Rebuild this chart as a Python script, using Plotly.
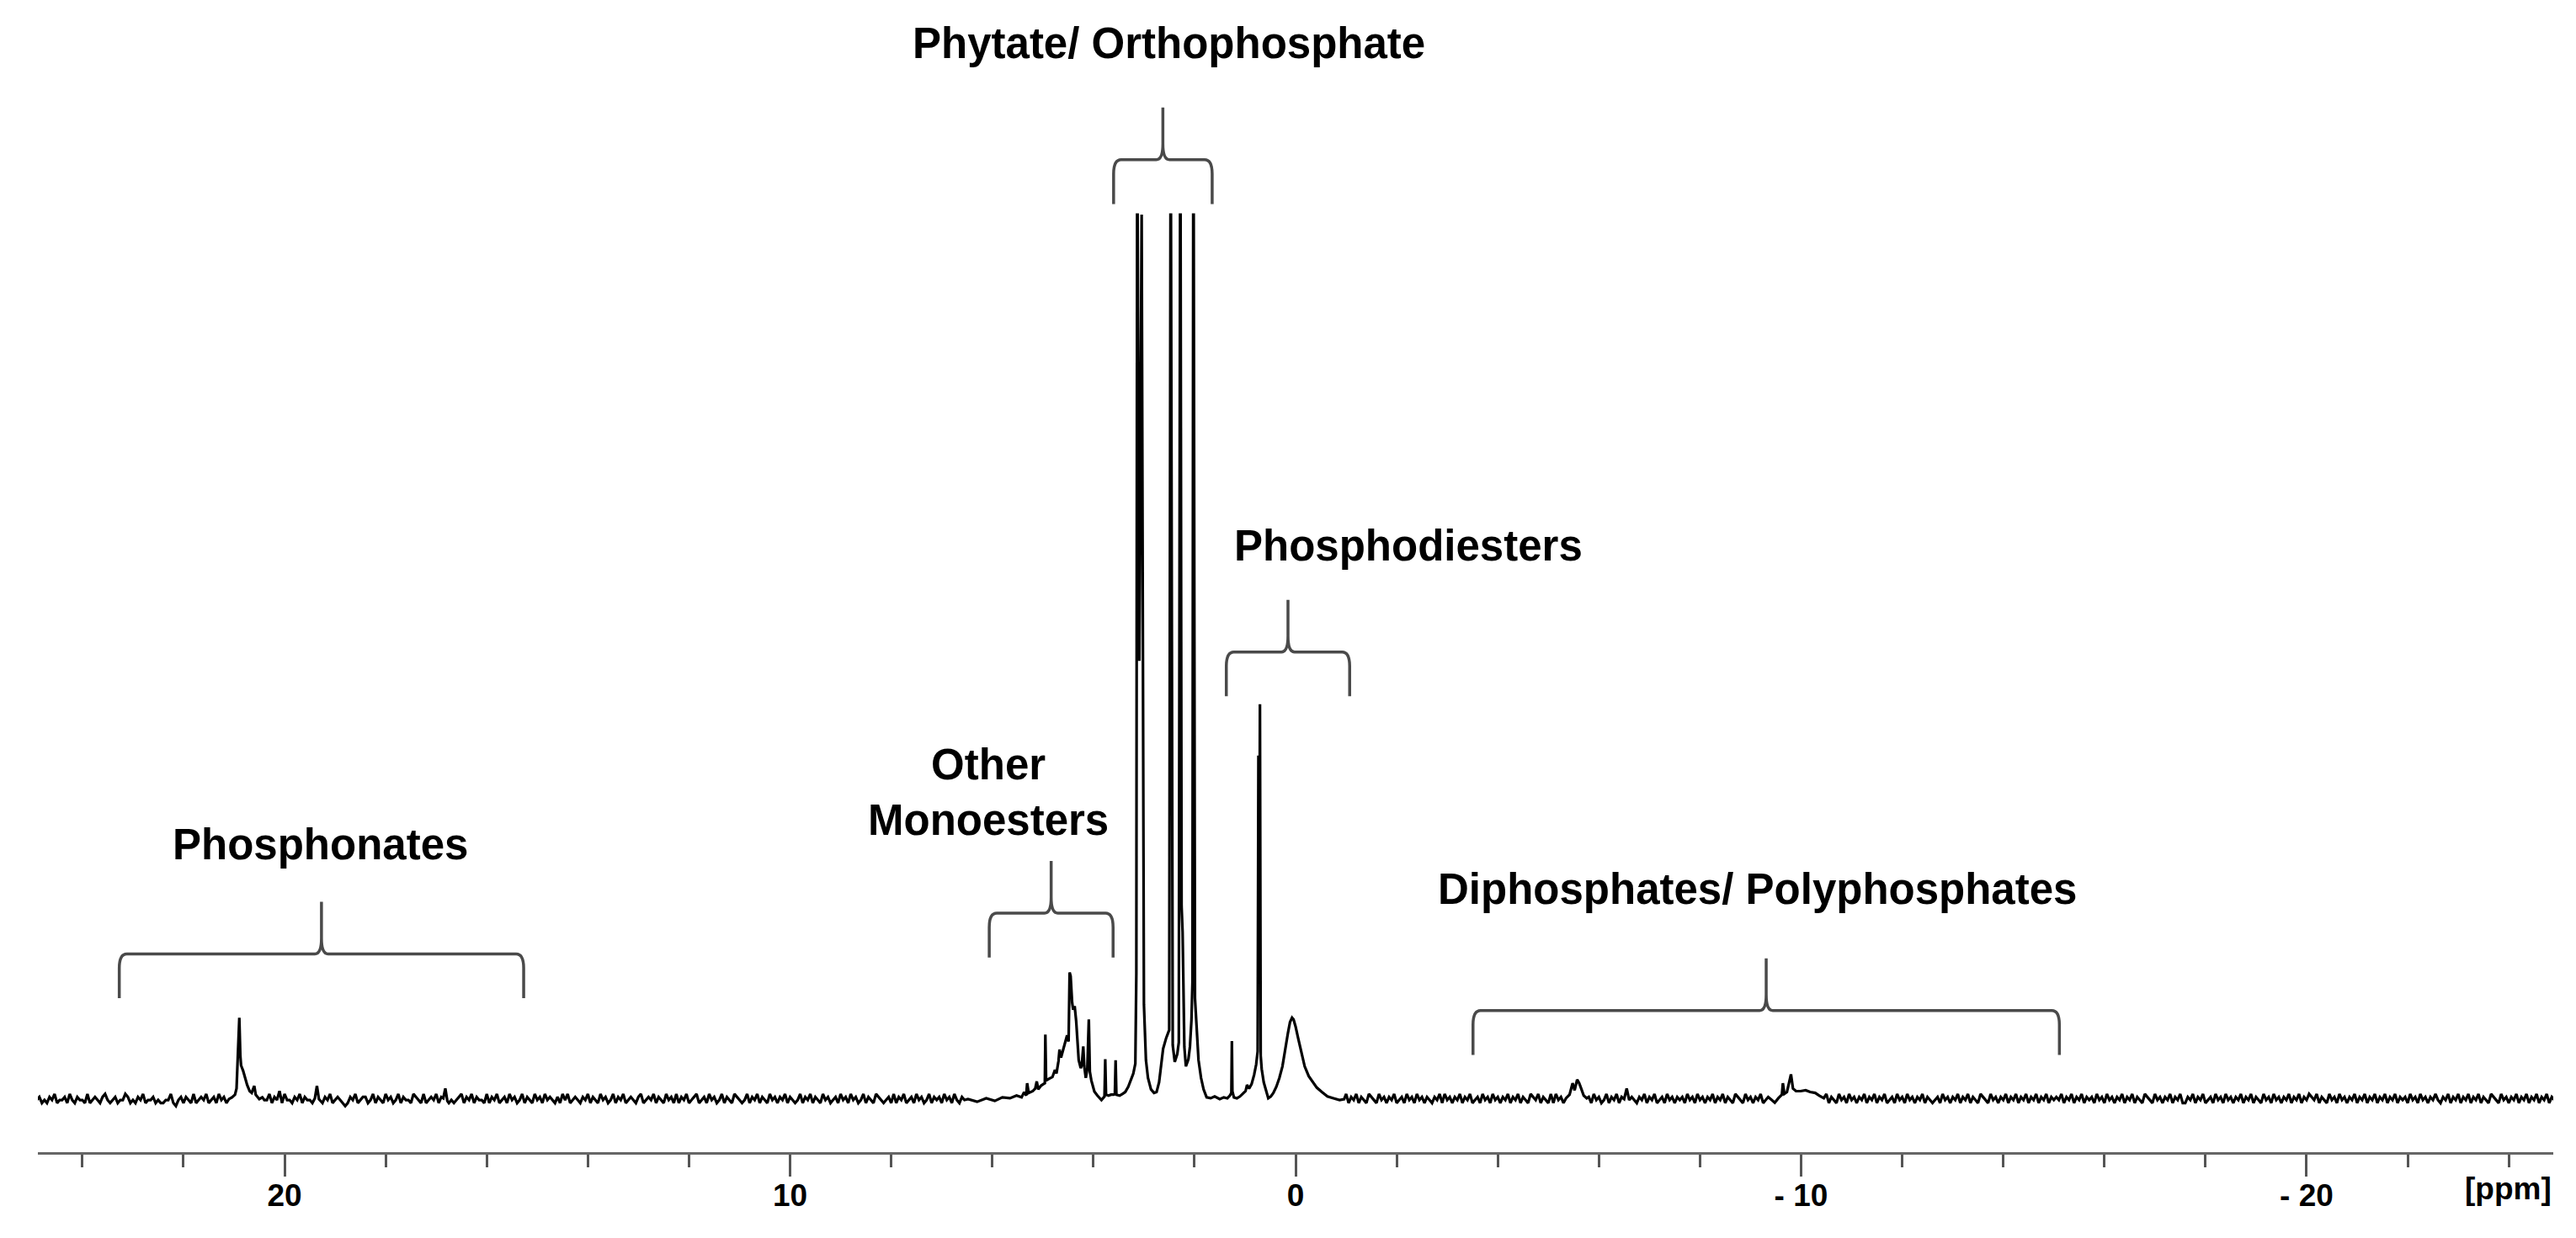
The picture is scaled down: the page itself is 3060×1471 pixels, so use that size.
import plotly.graph_objects as go

FONT = "Liberation Sans, Arial, sans-serif"

# 31P NMR spectrum: chemical shift (ppm) and intensity
# (intensity in % of the clipped full scale, 0 = baseline)

# crowded middle part: monoesters, phytate / orthophosphate, diesters
mid_ppm = [6.48, 6.30, 6.12, 5.95, 5.80, 5.65, 5.52, 5.42, 5.37, 5.33, 5.31, 5.28,
           5.20, 5.15, 5.12, 5.09, 5.04, 4.99, 4.96, 4.95, 4.935, 4.88, 4.81, 4.76,
           4.73, 4.69, 4.67, 4.64, 4.60, 4.56, 4.52, 4.49, 4.47, 4.45, 4.44, 4.42,
           4.40, 4.37, 4.34, 4.31, 4.29, 4.25, 4.23, 4.20, 4.18, 4.15, 4.12, 4.09,
           4.07, 4.04, 3.98, 3.92, 3.84, 3.78, 3.765, 3.75, 3.70, 3.65, 3.60, 3.575,
           3.56, 3.545, 3.48, 3.42, 3.37, 3.31, 3.26, 3.21, 3.17, 3.15, 3.135, 3.125,
           3.09, 3.055, 3.045, 3.00, 2.96, 2.92, 2.86, 2.80, 2.75, 2.70, 2.66, 2.62,
           2.56, 2.50, 2.475, 2.465, 2.43, 2.39, 2.34, 2.31, 2.285, 2.275, 2.255, 2.235,
           2.20, 2.17, 2.12, 2.09, 2.06, 2.04, 2.025, 2.015, 1.99, 1.96, 1.92, 1.87,
           1.82, 1.76, 1.68, 1.60, 1.50, 1.42, 1.35, 1.30, 1.27, 1.26, 1.25, 1.22,
           1.16, 1.10, 1.04, 0.99, 0.96, 0.92, 0.87, 0.82, 0.78, 0.75, 0.735, 0.72,
           0.705, 0.69, 0.67, 0.63, 0.58, 0.54, 0.49, 0.44, 0.38, 0.32, 0.26, 0.20,
           0.15, 0.11, 0.07, 0.04, 0.00, -0.05, -0.11, -0.18, -0.26, -0.34, -0.42, -0.52,
           -0.63, -0.75, -0.87, -0.96]
mid_int = [0.1, -0.2, 0.2, -0.1, 0.3, 0.2, 0.5, 0.3, 0.9, 0.5, 1.9, 0.8,
           1.0, 1.3, 2.1, 1.2, 1.6, 1.8, 1.9, 7.4, 2.2, 2.4, 2.6, 3.4,
           3.0, 4.4, 5.7, 4.8, 5.6, 6.6, 7.3, 6.6, 14.4, 14.0, 12.6, 11.0,
           10.2, 10.6, 8.9, 6.2, 4.5, 3.6, 3.9, 6.05, 3.8, 2.5, 3.5, 9.1,
           3.2, 2.2, 0.95, 0.5, 0.0, 0.4, 4.6, 0.6, 0.5, 0.6, 0.6, 0.7,
           4.5, 0.6, 0.5, 0.7, 0.9, 1.5, 2.2, 3.0, 4.1, 14.3, 100, 100,
           49.6, 100, 100, 10.8, 4.5, 2.5, 1.2, 0.8, 0.9, 2.0, 4.2, 5.8,
           7.0, 7.9, 100, 100, 6.2, 4.3, 5.2, 6.5, 100, 100, 21.9, 19.0,
           6.0, 3.8, 4.6, 6.0, 9.0, 13.3, 100, 100, 11.5, 8.9, 4.5, 2.5,
           1.2, 0.3, 0.2, 0.4, 0.1, 0.3, 0.2, 0.5, 0.8, 6.65, 1.0, 0.3,
           0.2, 0.4, 0.7, 1.0, 1.7, 1.3, 1.8, 2.85, 4.0, 5.5, 38.9, 16.0,
           44.7, 5.0, 3.5, 2.0, 1.0, 0.2, 0.4, 0.8, 1.5, 2.5, 3.8, 6.0,
           7.6, 8.8, 9.3, 9.1, 8.3, 7.0, 5.4, 3.8, 2.7, 2.0, 1.4, 0.9,
           0.4, 0.2, 0.0, 0.1]

# phosphonate peak near 21 ppm
phon_ppm = [21.10, 21.04, 20.98, 20.95, 20.92, 20.895, 20.875, 20.86, 20.82,
            20.78, 20.74, 20.69, 20.65, 20.60, 20.57, 20.50, 20.44]
phon_int = [0.1, 0.3, 0.6, 1.3, 5.7, 9.3, 5.0, 3.9, 3.3,
            2.4, 1.7, 1.0, 0.8, 1.6, 0.6, 0.1, 0.3]

# diphosphate signals near -5.6 and -9.8 ppm
diph_a_ppm = [-5.35, -5.42, -5.48, -5.52, -5.57, -5.61, -5.65, -5.70, -5.76]
diph_a_int = [0.2, 0.6, 1.9, 1.1, 2.3, 1.9, 1.3, 0.5, 0.2]
diph_b_ppm = [-9.40, -9.48, -9.55, -9.62, -9.64, -9.67, -9.72, -9.80, -9.84,
              -9.90, -9.99, -10.09, -10.18, -10.28, -10.36, -10.45]
diph_b_int = [0.1, -0.3, 0.2, 0.6, 1.9, 0.7, 0.9, 2.9, 1.3,
              1.0, 1.0, 1.1, 0.9, 0.8, 0.5, 0.2]

# small lone spikes
spike_ppm = [[19.40, 19.36, 19.32], [16.86, 16.82, 16.78], [-6.50, -6.55, -6.60]]
spike_int = [[0.2, 1.6, 0.1], [0.2, 1.3, -0.1], [0.1, 1.3, 0.0]]

# baseline wiggle, one digit per 0.05 ppm from 24.9 ppm downwards (4 = flat)
noise_rows = [
    "45343546344536435443634543564345344653435463445343",
    "34463245354363454634536453443546345364534463547364",
    "43546354436453546345432354634553463543645346354436",
    "54363454635463434563546354436354634536453463543645",
    "36454353646345435463543645346354634543563454635436",
    "45363546345634536453463543654346354635436453546354",
    "34635463543645345364536453463543654345363546345364",
    "53463545364536435463546345364536453546354636435463",
    "46354365435463546345364536354634536453546354635436",
    "35463546354635463456354635463546354635463546354635",
    "43654354634536435463546354365436453546345364536453",
    "54354636453546354634536453645354635463543654635436",
    "36453546345364536453463546354365435463546345364535",
    "45364536453546354635436543645354634536453546354634",
    "53546354635436453645354635463546345364536453546354",
    "34536453546354635436543645354635463546354635463545",
    "46354635463545364536453546354635436543645354635463",
    "35463546345364536453546354635436453645354635463546",
    "54635436453645354635463546354635463545364536453546",
    "43546354635463546354365436453546354635463546354635",
    "3546354635",
]

# labelled regions: bracket ends (ppm), bracket bar height, label place
region_names = ["Phosphonates", "Other<br>Monoesters", "Phytate/ Orthophosphate",
                "Phosphodiesters", "Diphosphates/ Polyphosphates"]
bracket_left = [23.27, 6.06, 3.60, 1.37, -3.51]
bracket_right = [15.27, 3.61, 1.65, -1.07, -15.11]
bracket_level = [16.5, 21.1, 106.2, 50.6, 10.1]
label_ppm = [19.29, 6.08, 2.51, -2.23, -9.13]
label_level = [28.9, 34.7, 119.3, 62.6, 23.8]

tick_vals = [20, 10, 0, -10, -20]
tick_text = ["20", "10", "0", "- 10", "- 20"]

# put the spectrum together
groups = [(mid_ppm, mid_int), (phon_ppm, phon_int), (diph_a_ppm, diph_a_int),
          (diph_b_ppm, diph_b_int)]
groups += list(zip(spike_ppm, spike_int))
points = []
spans = []
for p, v in groups:
    points += list(zip(p, v))
    spans.append((min(p), max(p)))
noise = "".join(noise_rows)
for i, d in enumerate(noise):
    p = round(24.9 - 0.05 * i, 3)
    if p < -24.95:
        break
    if any(lo - 0.02 <= p <= hi + 0.02 for lo, hi in spans):
        continue
    points.append((p, (int(d) - 4) * 0.34))
points.sort(key=lambda t: -t[0])

fig = go.Figure()
fig.add_trace(go.Scatter(x=[p for p, v in points], y=[v for p, v in points],
                         mode="lines", line=dict(color="black", width=3.2),
                         hoverinfo="skip"))

# curly brackets over each region
drop, rise = 5.0, 5.9
rx, ry = 0.15, 1.6
cx, cy = 0.13, 1.8
for xl, xr, h in zip(bracket_left, bracket_right, bracket_level):
    xm = (xl + xr) / 2
    path = (f"M {xl},{h - drop} L {xl},{h - ry} Q {xl},{h} {xl - rx},{h} "
            f"L {xm + cx},{h} Q {xm},{h} {xm},{h + cy} L {xm},{h + rise} "
            f"M {xm},{h + cy} Q {xm},{h} {xm - cx},{h} "
            f"L {xr + rx},{h} Q {xr},{h} {xr},{h - ry} L {xr},{h - drop}")
    fig.add_shape(type="path", path=path, xref="x", yref="y",
                  line=dict(color="#4a4a4a", width=3.5))

for name, xp, yp in zip(region_names, label_ppm, label_level):
    fig.add_annotation(x=xp, y=yp, xref="x", yref="y", text=name, showarrow=False,
                       xanchor="center", yanchor="middle",
                       font=dict(family=FONT, size=51, color="black", weight="bold"))

fig.add_annotation(x=1.0, y=-0.032, xref="paper", yref="paper", text="[ppm]",
                   showarrow=False, xanchor="right", yanchor="middle",
                   font=dict(family=FONT, size=37, color="black", weight="bold"))

# the page body keeps its default 8 px margin, so the figure is 16 px smaller
fig.update_layout(
    width=3044, height=1455,
    margin=dict(l=37, r=19, t=0, b=94),
    paper_bgcolor="white", plot_bgcolor="white",
    showlegend=False,
    xaxis=dict(range=[24.88, -24.88], showgrid=False, zeroline=False,
               showline=True, linecolor="#666666", linewidth=3,
               ticks="outside", ticklen=26, tickwidth=3, tickcolor="#555555",
               tickmode="array", tickvals=tick_vals, ticktext=tick_text,
               tickfont=dict(family=FONT, size=37, color="black", weight="bold"),
               ticklabelstandoff=-9,
               minor=dict(tickmode="linear", tick0=0, dtick=2, ticks="outside",
                          ticklen=15, tickwidth=3, tickcolor="#555555",
                          showgrid=False)),
    yaxis=dict(range=[-5.89, 123.48], visible=False),
)

fig.write_html("out.html")
